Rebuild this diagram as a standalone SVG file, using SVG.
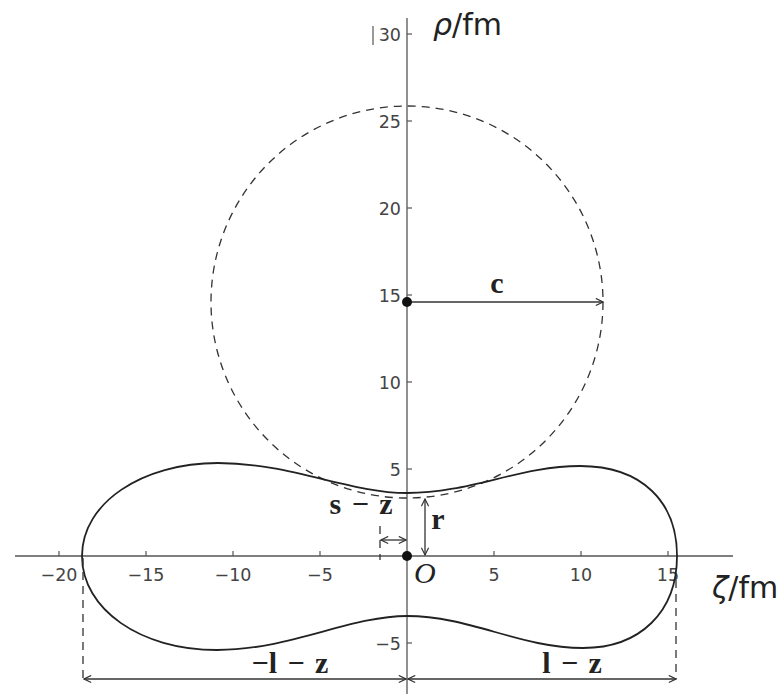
<svg xmlns="http://www.w3.org/2000/svg" width="783" height="694" viewBox="0 0 783 694">
<defs>
<style>
.axis{stroke:#555;stroke-width:1.3;fill:none}
.tick{stroke:#555;stroke-width:1.2}
.tl{font-family:"DejaVu Sans",sans-serif;font-size:17.5px;fill:#444}
.big{font-family:"DejaVu Sans",sans-serif;font-size:30px;fill:#222}
.bold{font-family:"Liberation Serif",serif;font-weight:bold;font-size:30px;fill:#222}
.curve{stroke:#222;stroke-width:1.8;fill:none}
.dash{stroke:#333;stroke-width:1.3;fill:none;stroke-dasharray:8,6}
.dim{stroke:#333;stroke-width:1.3;fill:none}
</style>
<marker id="ah" viewBox="0 0 10 10" refX="9" refY="5" markerWidth="9" markerHeight="9" orient="auto-start-reverse" markerUnits="userSpaceOnUse">
<path d="M1,1 L9,5 L1,9" fill="none" stroke="#333" stroke-width="1.3"/>
</marker>
</defs>
<rect width="783" height="694" fill="#fff"/>
<g id="axes">
<line class="axis" x1="15" y1="556" x2="733" y2="556"/>
<line class="axis" x1="407" y1="18" x2="407" y2="694"/>
<g class="tick">
<line x1="59" y1="556" x2="59" y2="551"/>
<line x1="146" y1="556" x2="146" y2="551"/>
<line x1="233" y1="556" x2="233" y2="551"/>
<line x1="320" y1="556" x2="320" y2="551"/>
<line x1="494" y1="556" x2="494" y2="551"/>
<line x1="581" y1="556" x2="581" y2="551"/>
<line x1="668" y1="556" x2="668" y2="551"/>
<line x1="407" y1="643" x2="412" y2="643"/>
<line x1="407" y1="469" x2="412" y2="469"/>
<line x1="407" y1="382" x2="412" y2="382"/>
<line x1="407" y1="295" x2="412" y2="295"/>
<line x1="407" y1="208" x2="412" y2="208"/>
<line x1="407" y1="121" x2="412" y2="121"/>
<line x1="407" y1="34" x2="412" y2="34"/>
</g>
<g class="tl" text-anchor="middle">
<text x="59" y="581">−20</text>
<text x="146" y="581">−15</text>
<text x="233" y="581">−10</text>
<text x="320" y="581">−5</text>
<text x="494" y="581">5</text>
<text x="581" y="581">10</text>
<text x="668" y="581">15</text>
</g>
<g class="tl" text-anchor="end">
<text x="401" y="650">−5</text>
<text x="401" y="476">5</text>
<text x="401" y="389">10</text>
<text x="401" y="302">15</text>
<text x="401" y="215">20</text>
<text x="401" y="128">25</text>
<text x="401" y="41">30</text>
</g>
<line x1="373" y1="26" x2="373" y2="45" stroke="#555" stroke-width="1.2"/>
<text class="big" x="433" y="35"><tspan font-style="italic">ρ</tspan>/fm</text>
<text class="big" x="712" y="598"><tspan font-style="italic">ζ</tspan>/fm</text>
</g>
<g id="circle">
<circle class="dash" cx="407" cy="302" r="196"/>
</g>
<g id="shape">
<path class="curve" d="M82,556 C82,503 142,463 218,463 C290,463 350,493 407,493 C470,493 520,466 580,466 C642,466 677,502 677,556 C677,612 640,648 583,648 C520,648 470,616 407,616 C350,616 290,650 217,650 C140,650 82,609 82,556 Z"/>
</g>
<g id="connectors">
<line class="dash" x1="83" y1="558" x2="83" y2="679"/>
<line class="dash" x1="676" y1="580" x2="676" y2="679"/>
<line class="dash" x1="380" y1="526" x2="380" y2="560" stroke-dasharray="5,4"/>
<line class="dim" x1="407" y1="302" x2="603" y2="302" marker-end="url(#ah)"/>
<line class="dim" x1="425" y1="499" x2="425" y2="555" marker-start="url(#ah)" marker-end="url(#ah)"/>
<line class="dim" x1="381" y1="540" x2="406" y2="540" marker-start="url(#ah)" marker-end="url(#ah)"/>
<line class="dim" x1="84" y1="679" x2="406" y2="679" marker-start="url(#ah)" marker-end="url(#ah)"/>
<line class="dim" x1="408" y1="679" x2="676" y2="679" marker-start="url(#ah)" marker-end="url(#ah)"/>
</g>
<g id="points">
<circle cx="407" cy="302" r="5" fill="#111"/>
<circle cx="407" cy="556" r="5" fill="#111"/>
</g>
<g id="labels">
<text class="bold" x="497" y="293" text-anchor="middle">c</text>
<text class="bold" x="438" y="529" text-anchor="middle">r</text>
<text class="bold" x="361" y="514" text-anchor="middle" word-spacing="3">s − z</text>
<text class="bold" x="290" y="673" text-anchor="middle" word-spacing="3">−l − z</text>
<text class="bold" x="572" y="673" text-anchor="middle" word-spacing="3">l − z</text>
<text x="414" y="583" font-family="Liberation Serif,serif" font-style="italic" font-size="30" fill="#222">O</text>
</g>
</svg>
